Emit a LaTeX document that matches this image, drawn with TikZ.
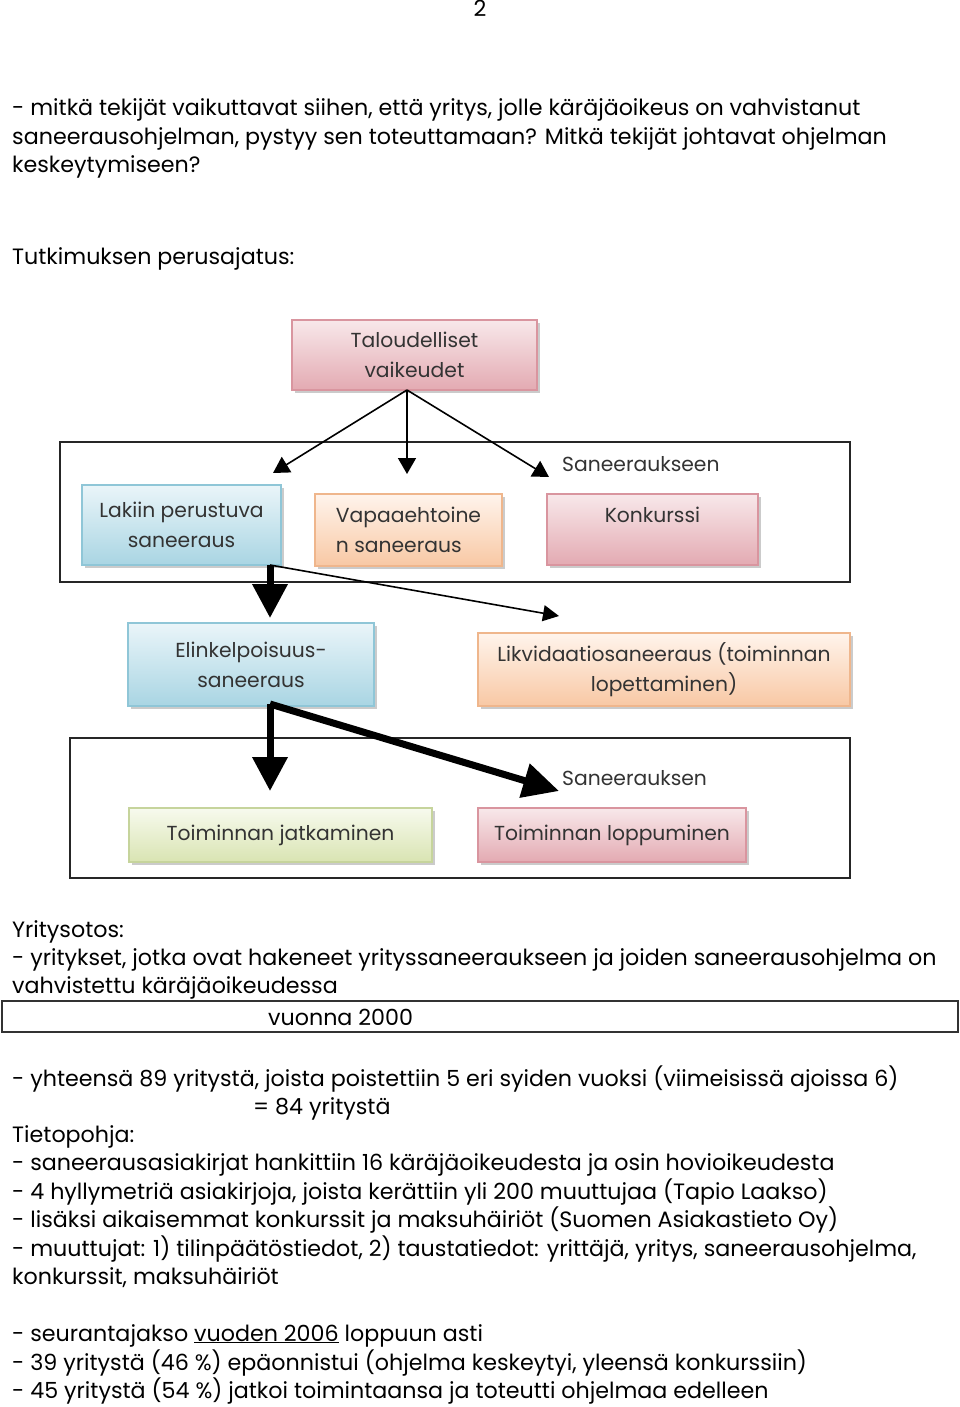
\documentclass[tikz,border=0pt]{standalone}
\usepackage{fontspec}
\setmainfont{Poppins}
\usetikzlibrary{arrows.meta,shadows}
\definecolor{pinkT}{HTML}{F8E8EA}
\definecolor{pinkB}{HTML}{E3AAB2}
\definecolor{pinkD}{HTML}{D9959F}
\definecolor{blueT}{HTML}{EAF5F9}
\definecolor{blueB}{HTML}{A9D5E3}
\definecolor{blueD}{HTML}{8FC6D7}
\definecolor{peachT}{HTML}{FFF4EC}
\definecolor{peachB}{HTML}{F8C8A4}
\definecolor{peachD}{HTML}{EFB68C}
\definecolor{greenT}{HTML}{F7FAEE}
\definecolor{greenB}{HTML}{D9E4B2}
\definecolor{greenD}{HTML}{C6D49C}
\tikzset{
  txt/.style={anchor=base west, inner sep=0pt, font=\fontsize{22.2}{26}\selectfont},
  lbl/.style={anchor=base west, inner sep=0pt, text=black!80, font=\fontsize{20.3}{26}\selectfont},
  box/.style={draw, line width=1.2pt, inner sep=0pt, align=center, text=black!80,
    font=\fontsize{20.3}{30}\selectfont,
    drop shadow={shadow xshift=2.5pt, shadow yshift=-2.5pt, fill=black!40, opacity=0.5}},
  pinkbox/.style={box, draw=pinkD, top color=pinkT, bottom color=pinkB},
  bluebox/.style={box, draw=blueD, top color=blueT, bottom color=blueB},
  peachbox/.style={box, draw=peachD, top color=peachT, bottom color=peachB},
  greenbox/.style={box, draw=greenD, top color=greenT, bottom color=greenB},
  frame/.style={draw=black!85, line width=1.8pt},
  thin/.style={line width=1.6pt, -{Triangle[length=16pt,width=18pt]}},
  thick/.style={line width=7pt, -{Triangle[length=34pt,width=34pt]}}
}
\begin{document}
\begin{tikzpicture}[x=1pt,y=-1pt]
\useasboundingbox (0,0) rectangle (960,1407);
\fill[white] (0,0) rectangle (960,1407);

\node[txt, anchor=base] (pg) at (480,17) {2};
\node[txt] (l1) at (12,116) {- mitkä tekijät vaikuttavat siihen, että yritys, jolle käräjäoikeus on vahvistanut};
\node[txt] (l2) at (12,145) {saneerausohjelman, pystyy sen toteuttamaan? Mitkä tekijät johtavat ohjelman};
\node[txt] (l3) at (12,173) {keskeytymiseen?};
\node[txt] (l4) at (12,264) {Tutkimuksen perusajatus:};

% frames
\draw[frame] (60,442) rectangle (850,582);
\draw[frame] (70,738) rectangle (850,878);

% boxes
\node[pinkbox, minimum width=245pt, minimum height=70pt] (talous) at (414.5,355) {Taloudelliset\\vaikeudet};
\node[bluebox, minimum width=199pt, minimum height=80pt] (lakiin) at (181.5,525) {Lakiin perustuva\\saneeraus};
\node[peachbox, minimum width=187pt, minimum height=72pt, align=left] (vapaa) at (408.5,530) {Vapaaehtoine\\n saneeraus};
\node[lbl] (sanee) at (562,471) {Saneeraukseen};
\node[pinkbox, minimum width=211pt, minimum height=71pt] (konk) at (652.5,529.5) {Konkurssi\\\phantom{X}};
\node[bluebox, minimum width=246pt, minimum height=83pt] (elin) at (251,664.5) {Elinkelpoisuus-\\saneeraus};
\node[peachbox, minimum width=372pt, minimum height=73pt] (likv) at (664,669.5) {Likvidaatiosaneeraus (toiminnan\\lopettaminen)};
\node[lbl] (sanek) at (562,785) {Saneerauksen};
\node[greenbox, minimum width=303pt, minimum height=54pt] (jatk) at (280.5,835) {Toiminnan jatkaminen};
\node[pinkbox, minimum width=268pt, minimum height=54pt] (lopp) at (612,835) {Toiminnan loppuminen};

% thin arrows from Taloudelliset vaikeudet
\coordinate (ts) at (407,390);
\coordinate (t1) at (273,473);
\coordinate (t2) at (407,474);
\coordinate (t3) at (549,477);
\draw[thin] (ts) -- (t1);
\draw[thin] (ts) -- (t2);
\draw[thin] (ts) -- (t3);

% from Lakiin perustuva saneeraus
\coordinate (ls) at (270,565);
\coordinate (le) at (270,618);
\coordinate (lt) at (559,616);
\draw[line width=1.6pt, -{Triangle[length=16pt,width=16pt]}] (ls) -- (lt);
\draw[thick] (ls) -- (le);

% from Elinkelpoisuus
\coordinate (es) at (270,704);
\coordinate (ee) at (270,791);
\coordinate (et) at (559,791);
\draw[line width=7pt, -{Triangle[length=36pt,width=34pt]}] (es) -- (et);
\draw[thick] (es) -- (ee);

% lower text
\node[txt] (y1) at (12,937) {Yritysotos:};
\node[txt] (y2) at (12,965) {- yritykset, jotka ovat hakeneet yrityssaneeraukseen ja joiden saneerausohjelma on};
\node[txt] (y3) at (12,993) {vahvistettu käräjäoikeudessa};
\draw[line width=1.2pt, draw=black!80] (2,1001) rectangle (958,1032);
\node[txt] (y4) at (268,1025) {vuonna 2000};
\node[txt] (y5) at (12,1086) {- yhteensä 89 yritystä, joista poistettiin 5 eri syiden vuoksi (viimeisissä ajoissa 6)};
\node[txt] (y6) at (253,1114) {= 84 yritystä};
\node[txt] (y7) at (12,1142) {Tietopohja:};
\node[txt] (y8) at (12,1170) {- saneerausasiakirjat hankittiin 16 käräjäoikeudesta ja osin hovioikeudesta};
\node[txt] (y9) at (12,1199) {- 4 hyllymetriä asiakirjoja, joista kerättiin yli 200 muuttujaa (Tapio Laakso)};
\node[txt] (y10) at (12,1227) {- lisäksi aikaisemmat konkurssit ja maksuhäiriöt (Suomen Asiakastieto Oy)};
\node[txt] (y11) at (12,1256) {- muuttujat: 1) tilinpäätöstiedot, 2) taustatiedot: yrittäjä, yritys, saneerausohjelma,};
\node[txt] (y12) at (12,1284) {konkurssit, maksuhäiriöt};
\node[txt] (y13) at (12,1341) {- seurantajakso \underline{vuoden 2006} loppuun asti};
\node[txt] (y14) at (12,1370) {- 39 yritystä (46 \%) epäonnistui (ohjelma keskeytyi, yleensä konkurssiin)};
\node[txt] (y15) at (12,1398) {- 45 yritystä (54 \%) jatkoi toimintaansa ja toteutti ohjelmaa edelleen};
\end{tikzpicture}
\end{document}
